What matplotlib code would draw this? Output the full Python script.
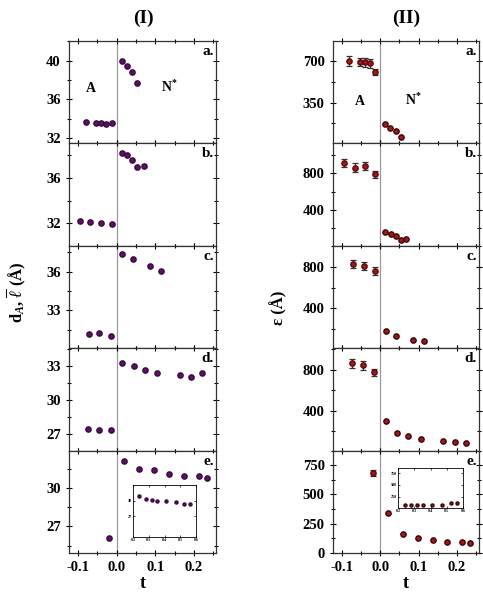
import matplotlib
matplotlib.use('Agg')
import matplotlib.pyplot as plt
from matplotlib.ticker import MultipleLocator, AutoMinorLocator

plt.rcParams['font.family'] = ['Liberation Serif', 'DejaVu Serif']
plt.rcParams['font.weight'] = 'bold'
plt.rcParams['mathtext.fontset'] = 'custom'
plt.rcParams['mathtext.rm'] = 'Liberation Serif:bold'
plt.rcParams['mathtext.it'] = 'Liberation Serif:bold:italic'
plt.rcParams['mathtext.bf'] = 'Liberation Serif:bold'

# --- datos columna (I): d_A (fase A) y l (fase N*) ---
tA_I = [
    [-0.080, -0.054, -0.041, -0.028, -0.013],
    [-0.095, -0.069, -0.041, -0.013],
    [-0.072, -0.045, -0.015],
    [-0.074, -0.045, -0.014],
    [-0.020],
]
dA_I = [
    [33.7, 33.6, 33.6, 33.5, 33.6],
    [32.24, 32.15, 32.03, 31.95],
    [31.19, 31.27, 31.04],
    [27.44, 27.41, 27.41],
    [26.12],
]
tN_I = [
    [0.013, 0.026, 0.040, 0.053],
    [0.013, 0.027, 0.041, 0.053, 0.070],
    [0.015, 0.043, 0.086, 0.114],
    [0.015, 0.044, 0.073, 0.105, 0.164, 0.193, 0.222],
    [0.019, 0.058, 0.096, 0.136, 0.174, 0.213, 0.233],
]
l_I = [
    [39.95, 39.5, 38.85, 37.75],
    [38.17, 37.97, 37.6, 36.93, 37.05],
    [37.33, 37.0, 36.44, 36.08],
    [33.29, 32.97, 32.65, 32.42, 32.18, 32.06, 32.36],
    [32.07, 31.5, 31.37, 31.11, 30.96, 30.9, 30.77],
]
ylims_I = [(31.45, 42.05), (30.03, 39.03), (30.08, 38.0), (25.57, 34.57), (24.93, 32.92)]
ymaj_I = [4, 4, 3, 3, 3]

# --- datos columna (II): epsilon ---
tA_II = [
    [-0.081, -0.052, -0.040, -0.026, -0.013],
    [-0.095, -0.067, -0.040, -0.013],
    [-0.072, -0.043, -0.014],
    [-0.073, -0.045, -0.015],
    [-0.019],
]
eA_II = [
    [700, 692, 689, 681, 610],
    [909, 862, 880, 786],
    [823, 807, 759],
    [865, 846, 775],
    [687],
]
errA_II = [
    [45, 35, 35, 35, 25],
    [45, 45, 45, 35],
    [40, 40, 35],
    [45, 45, 35],
    [25],
]
tN_II = [
    [0.012, 0.026, 0.040, 0.054],
    [0.013, 0.027, 0.040, 0.054, 0.068],
    [0.015, 0.042, 0.085, 0.113],
    [0.015, 0.044, 0.073, 0.105, 0.164, 0.195, 0.224],
    [0.020, 0.058, 0.098, 0.136, 0.175, 0.213, 0.233],
]
eN_II = [
    [169, 132, 110, 59],
    [165, 143, 122, 71, 89],
    [188, 137, 102, 86],
    [293, 176, 146, 124, 98, 88, 81],
    [341, 156, 127, 110, 93, 88, 82],
]
ylims_II = [(5, 870), (11, 1124), (19, 1000), (7, 1012), (-4, 878)]
ymaj_II = [350, 400, 400, 400, 250]

# insets del panel e.
t_ins = [0.241, 0.280, 0.318, 0.355, 0.412, 0.470, 0.525, 0.563]
l_ins = [30.9, 30.4, 30.13, 30.0, 29.87, 29.74, 29.4, 29.35]
e_ins = [78, 78, 71, 71, 78, 78, 114, 110]

letras = ['a.', 'b.', 'c.', 'd.', 'e.']
COL_I = '#5c1066'
COL_II = '#a3161b'

fig = plt.figure(figsize=(4.83, 5.94), dpi=100)
W, H = 483.0, 594.0
top_px, panel_px = 41.0, 102.4


def estilo_ejes(ax, ymaj, ultimo):
    ax.set_xlim(-0.123, 0.257)
    ax.xaxis.set_major_locator(MultipleLocator(0.1))
    ax.xaxis.set_minor_locator(MultipleLocator(0.05))
    ax.yaxis.set_major_locator(MultipleLocator(ymaj))
    ax.yaxis.set_minor_locator(AutoMinorLocator(2))
    ax.tick_params(which='both', direction='inout', top=True, right=True,
                   labelsize=10.5, width=0.8)
    ax.tick_params(which='major', length=5)
    ax.tick_params(which='minor', length=3)
    for s in ax.spines.values():
        s.set_linewidth(0.9)
        s.set_color('#333333')
    ax.axvline(0.0, color='#999999', lw=0.9, zorder=0)
    if ultimo:
        ax.set_xticks([-0.1, 0.0, 0.1, 0.2])
        ax.set_xticklabels(['-0.1', '0.0', '0.1', '0.2'])
    else:
        ax.tick_params(labelbottom=False)
    for lab in ax.get_yticklabels() + ax.get_xticklabels():
        lab.set_fontweight('bold')


ejes_I, ejes_II = [], []
for i in range(5):
    b = 1 - (top_px + panel_px * (i + 1)) / H
    h = panel_px / H
    ax1 = fig.add_axes([69 / W, b, 147 / W, h])
    ax2 = fig.add_axes([333 / W, b, 146 / W, h])
    ejes_I.append(ax1)
    ejes_II.append(ax2)

    # columna I
    ax1.errorbar(tA_I[i], dA_I[i], xerr=0.004, yerr=0.1, fmt='o', ms=3.8,
                 color=COL_I, mec='#3a0a40', ecolor='#3a0a40', elinewidth=0.9,
                 capsize=0)
    ax1.errorbar(tN_I[i], l_I[i], xerr=0.004, yerr=0.1, fmt='o', ms=3.8,
                 color=COL_I, mec='#3a0a40', ecolor='#3a0a40', elinewidth=0.9,
                 capsize=0)
    ax1.set_ylim(*ylims_I[i])
    estilo_ejes(ax1, ymaj_I[i], i == 4)
    ax1.text(0.985, 0.96, letras[i], transform=ax1.transAxes, ha='right',
             va='top', fontsize=11, fontweight='bold')

    # columna II
    ax2.errorbar(tA_II[i], eA_II[i], yerr=errA_II[i], fmt='o', ms=3.8,
                 color=COL_II, mec='#5a0a0a', ecolor='#333333', elinewidth=0.9,
                 capsize=2.5, capthick=0.9)
    ax2.errorbar(tN_II[i], eN_II[i], xerr=0.004, fmt='o', ms=3.8,
                 color=COL_II, mec='#3a0505', ecolor='#3a0505', elinewidth=0.9,
                 capsize=0)
    ax2.set_ylim(*ylims_II[i])
    estilo_ejes(ax2, ymaj_II[i], i == 4)
    ax2.text(0.985, 0.96, letras[i], transform=ax2.transAxes, ha='right',
             va='top', fontsize=11, fontweight='bold')

# etiquetas de fase
ejes_I[0].text(-0.067, 36.8, 'A', fontsize=10, fontweight='bold', ha='center')
ejes_I[0].text(0.137, 36.8, r'N$^{*}$', fontsize=10, fontweight='bold', ha='center')
ejes_II[0].text(-0.052, 330, 'A', fontsize=10, fontweight='bold', ha='center')
ejes_II[0].text(0.087, 330, r'N$^{*}$', fontsize=10, fontweight='bold', ha='center')

# titulos
fig.text(143 / W, 1 - 18 / H, '(I)', fontsize=14, fontweight='bold', ha='center', va='center')
fig.text(406 / W, 1 - 18 / H, '(II)', fontsize=14, fontweight='bold', ha='center', va='center')

# etiquetas ejes
fig.text(143 / W, 1 - 584 / H, 't', fontsize=13, fontweight='bold', ha='center', va='center')
fig.text(406 / W, 1 - 584 / H, 't', fontsize=13, fontweight='bold', ha='center', va='center')
fig.text(16 / W, 1 - 292 / H, r'd$_{A}$, $\overline{\ell}$ (Å)', rotation=90,
         fontsize=12, fontweight='bold', ha='center', va='center')
fig.text(279 / W, 1 - 308 / H, 'ε (Å)', rotation=90,
         fontsize=12, fontweight='bold', ha='center', va='center')

# insets
ins1 = fig.add_axes([133 / W, 1 - 537 / H, 63 / W, 52 / H])
ins1.plot(t_ins, l_ins, 'o', ms=2.2, color=COL_I, mec='#3a0a40')
ins1.set_xlim(0.2, 0.6)
ins1.set_ylim(22.9, 33.1)
ins1.set_xticks([0.2, 0.3, 0.4, 0.5, 0.6])
ins1.set_yticks([27, 30])

ins2 = fig.add_axes([398 / W, 1 - 508 / H, 65 / W, 40 / H])
ins2.plot(t_ins, e_ins, 'o', ms=2.2, color=COL_II, mec='#3a0505')
ins2.set_xlim(0.2, 0.6)
ins2.set_ylim(7, 864)
ins2.set_xticks([0.2, 0.3, 0.4, 0.5, 0.6])
ins2.set_yticks([250, 500, 750])

for ins in (ins1, ins2):
    ins.tick_params(which='both', direction='in', labelsize=3, length=1.5,
                    width=0.5, pad=1, top=True, right=True)
    for s in ins.spines.values():
        s.set_linewidth(0.6)

fig.savefig('out.png', dpi=100)
plt.close(fig)
